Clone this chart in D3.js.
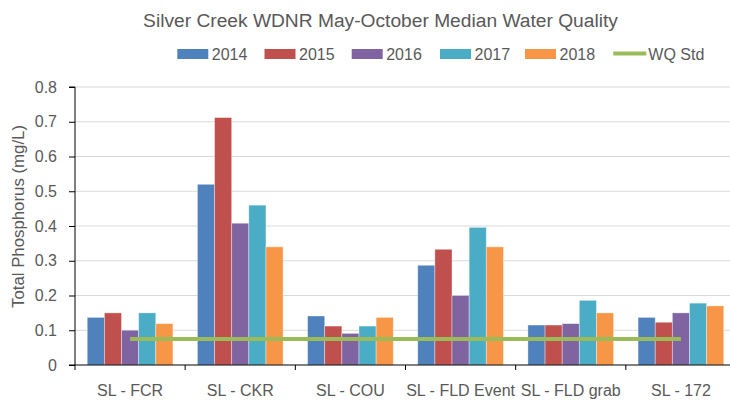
<!DOCTYPE html>
<html>
<head>
<meta charset="utf-8">
<script src="https://cdn.jsdelivr.net/npm/d3@7"></script>
<style>
  html, body { margin: 0; padding: 0; background: #fff; }
  svg { display: block; font-family: "Liberation Sans", Arial, sans-serif; }
</style>
</head>
<body>
<svg id="chart" width="730" height="400"></svg>
<script>
// ---- data ----
const categories = ["SL - FCR", "SL - CKR", "SL - COU", "SL - FLD Event", "SL - FLD grab", "SL - 172"];
const seriesNames = ["2014", "2015", "2016", "2017", "2018"];
const v2014 = [0.137, 0.520, 0.141, 0.287, 0.115, 0.137];
const v2015 = [0.150, 0.712, 0.112, 0.333, 0.115, 0.123];
const v2016 = [0.100, 0.408, 0.091, 0.200, 0.119, 0.150];
const v2017 = [0.150, 0.460, 0.112, 0.396, 0.186, 0.178];
const v2018 = [0.119, 0.340, 0.137, 0.340, 0.150, 0.170];
const wqStd = [0.075, 0.075, 0.075, 0.075, 0.075, 0.075];
const yTicks = [0, 0.1, 0.2, 0.3, 0.4, 0.5, 0.6, 0.7, 0.8];
const yTickLabels = ["0", "0.1", "0.2", "0.3", "0.4", "0.5", "0.6", "0.7", "0.8"];
const colors = ["#4F81BD", "#C0504D", "#8064A2", "#4BACC6", "#F79646"];
const wqColor = "#9BBB59";
const seriesValues = [v2014, v2015, v2016, v2017, v2018];

const svg = d3.select("#chart");
const textColor = "#595959";
const pLeft = 75, pRight = 736, pTop = 87, pBottom = 365;

const x = d3.scaleBand().domain(categories).range([pLeft, pRight]).paddingInner(0).paddingOuter(0);
const xs = d3.scaleBand().domain(seriesNames).range([0, x.bandwidth()]).paddingInner(0).paddingOuter(0.715);
const y = d3.scaleLinear().domain([0, 0.8]).range([pBottom, pTop]);

// gridlines
svg.append("g").selectAll("line").data(yTicks.slice(1)).join("line")
  .attr("x1", pLeft).attr("x2", pRight)
  .attr("y1", d => y(d)).attr("y2", d => y(d))
  .attr("stroke", "#d9d9d9").attr("stroke-width", 1);

// bars
const rows = [];
categories.forEach((c, i) => seriesNames.forEach((s, j) => rows.push({c, s, j, v: seriesValues[j][i]})));
svg.append("g").selectAll("rect").data(rows).join("rect")
  .attr("x", d => x(d.c) + xs(d.s))
  .attr("width", xs.bandwidth())
  .attr("y", d => y(d.v))
  .attr("height", d => y(0) - y(d.v))
  .attr("fill", d => colors[d.j])
  .attr("stroke", "#ffffff").attr("stroke-opacity", 0.45).attr("stroke-width", 0.8);

// WQ Std line
const line = d3.line().x((d, i) => x(categories[i]) + x.bandwidth() / 2).y(d => y(d));
svg.append("path").datum(wqStd).attr("d", line)
  .attr("fill", "none").attr("stroke", wqColor).attr("stroke-width", 4);

// y axis
const yAxis = d3.axisLeft(y).tickValues(yTicks).tickFormat((d, i) => yTickLabels[i]).tickSize(6).tickPadding(12);
const gy = svg.append("g").attr("transform", `translate(${pLeft},0)`).call(yAxis);
gy.select(".domain").attr("stroke", "#000").attr("d", `M-6,${pTop}H0V${pBottom}H-6`);
gy.selectAll(".tick line").attr("stroke", "#000");
gy.selectAll(".tick text").attr("fill", textColor).style("font-size", "16px").style("font-family", "Liberation Sans, Arial, sans-serif");

// x axis
const gx = svg.append("g").attr("transform", `translate(0,${pBottom})`);
gx.append("line").attr("x1", pLeft).attr("x2", pRight).attr("y1", 0).attr("y2", 0).attr("stroke", "#000");
const boundaries = categories.map(c => x(c)).concat([pRight]);
gx.selectAll("line.tk").data(boundaries).join("line").attr("class", "tk")
  .attr("x1", d => d).attr("x2", d => d).attr("y1", 0).attr("y2", 5).attr("stroke", "#000");
gx.selectAll("text").data(categories).join("text")
  .attr("x", d => x(d) + x.bandwidth() / 2).attr("y", 30.5)
  .attr("text-anchor", "middle").attr("fill", textColor).style("font-size", "16px")
  .text(d => d);

// y title
svg.append("text")
  .attr("transform", `translate(24,216.5) rotate(-90)`)
  .attr("text-anchor", "middle").attr("fill", textColor).style("font-size", "16px")
  .attr("textLength", 183).attr("lengthAdjust", "spacingAndGlyphs")
  .text("Total Phosphorus (mg/L)");

// title
svg.append("text").attr("x", 380.5).attr("y", 27.3).attr("text-anchor", "middle")
  .attr("fill", textColor).style("font-size", "19.2px")
  .text("Silver Creek WDNR May-October Median Water Quality");

// legend
const legendItems = seriesNames.map((s, i) => ({name: s, color: colors[i], type: "rect"}))
  .concat([{name: "WQ Std", color: wqColor, type: "line"}]);
const lg = svg.append("g");
const lgX = [177.3, 264.5, 351.7, 440, 525, 613.3];
legendItems.forEach((d, i) => {
  const g = lg.append("g").attr("transform", `translate(${lgX[i]},0)`);
  if (d.type === "rect") {
    g.append("rect").attr("x", 0).attr("y", 49).attr("width", 31).attr("height", 10).attr("fill", d.color);
    g.append("text").attr("x", 34.5).attr("y", 60).attr("fill", textColor).style("font-size", "16px").text(d.name);
  } else {
    g.append("line").attr("x1", 0).attr("x2", 33).attr("y1", 53.5).attr("y2", 53.5)
      .attr("stroke", d.color).attr("stroke-width", 4);
    g.append("text").attr("x", 35).attr("y", 60).attr("fill", textColor).style("font-size", "16px").text(d.name);
  }
});
</script>
</body>
</html>
